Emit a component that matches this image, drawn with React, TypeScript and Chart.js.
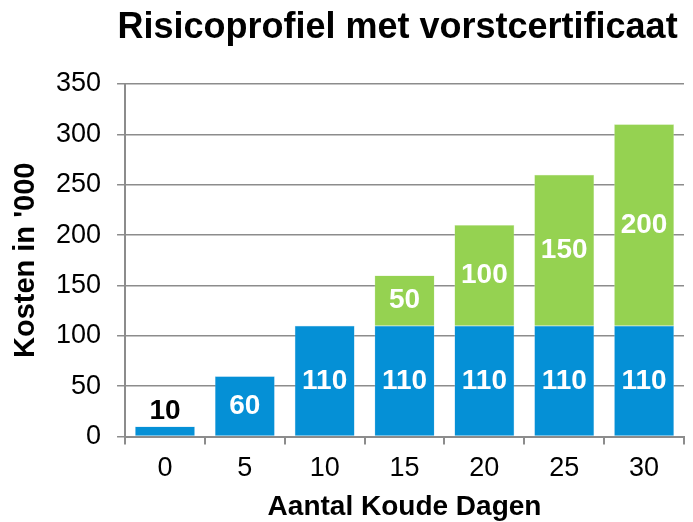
import React, { useEffect, useRef } from "react";
import { Chart, registerables } from "chart.js";

Chart.register(...registerables);

const categories = ["0", "5", "10", "15", "20", "25", "30"];
const baseCosts = [10, 60, 110, 110, 110, 110, 110];
const extraCosts = [0, 0, 0, 50, 100, 150, 200];
const baseLabels = ["10", "60", "110", "110", "110", "110", "110"];
const extraLabels = ["", "", "", "50", "100", "150", "200"];
const titleText = "Risicoprofiel met vorstcertificaat";

const FONT = "'Liberation Sans', Arial, Helvetica, sans-serif";

const labelPlugin = {
  id: "barLabels",
  afterDatasetsDraw(chart: any) {
    const ctx = chart.ctx;
    ctx.save();
    ctx.font = `bold 28px ${FONT}`;
    ctx.textAlign = "center";
    ctx.textBaseline = "middle";
    const lists = [baseLabels, extraLabels];
    chart.data.datasets.forEach((ds: any, di: number) => {
      const meta = chart.getDatasetMeta(di);
      meta.data.forEach((bar: any, i: number) => {
        const txt = lists[di][i];
        if (!txt) return;
        const h = Math.abs(bar.base - bar.y);
        if (h < 30) {
          ctx.fillStyle = "#000";
          ctx.fillText(txt, bar.x, bar.y - 15);
        } else {
          ctx.fillStyle = "#fff";
          ctx.fillText(txt, bar.x, (bar.y + bar.base) / 2);
        }
      });
    });
    // title
    ctx.fillStyle = "#000";
    ctx.font = `bold 36px ${FONT}`;
    const ca = chart.chartArea;
    ctx.fillText(titleText, (ca.left + ca.right) / 2 - 7, 28);
    ctx.restore();
  },
};

export default function App() {
  const ref = useRef<HTMLCanvasElement>(null);
  useEffect(() => {
    document.body.style.margin = "0";
    const chart = new Chart(ref.current!, {
      type: "bar",
      data: {
        labels: categories,
        datasets: [
          {
            label: "Basis",
            data: baseCosts,
            backgroundColor: "#0590d6",
            borderColor: "#9fd0ee",
            borderWidth: 0.5,
            barPercentage: 0.75,
            categoryPercentage: 1,
          },
          {
            label: "Extra",
            data: extraCosts,
            backgroundColor: "#95d251",
            borderColor: "#cdeab0",
            borderWidth: 0.5,
            barPercentage: 0.75,
            categoryPercentage: 1,
          },
        ],
      },
      options: {
        animation: false,
        responsive: false,
        layout: { padding: { left: 11, right: 9, top: 84, bottom: 1 } },
        plugins: {
          legend: { display: false },
          tooltip: { enabled: false },
          title: { display: false },
        },
        scales: {
          x: {
            stacked: true,
            grid: {
              offset: true,
              drawOnChartArea: false,
              drawTicks: true,
              tickLength: 8,
              color: "#8c8c8c",
              lineWidth: 2,
            },
            border: { color: "#8c8c8c", width: 2 },
            ticks: { color: "#000", font: { family: FONT, size: 27 }, padding: 8 },
            title: {
              display: true,
              text: "Aantal Koude Dagen",
              color: "#000",
              font: { family: FONT, size: 28, weight: "bold", lineHeight: 1 },
              padding: { top: 0, bottom: 0 },
            },
          },
          y: {
            stacked: true,
            min: 0,
            max: 350,
            ticks: { stepSize: 50, color: "#000", font: { family: FONT, size: 27 }, padding: 16 },
            grid: { color: "#8c8c8c", lineWidth: 1.5, tickLength: 8 },
            border: { color: "#8c8c8c", width: 2 },
            title: {
              display: true,
              text: "Kosten in '000",
              color: "#000",
              font: { family: FONT, size: 29, weight: "bold", lineHeight: 1 },
              padding: { top: 0, bottom: 0 },
            },
          },
        },
      },
      plugins: [labelPlugin],
    });
    return () => chart.destroy();
  }, []);
  return (
    <div style={{ width: 693, height: 522 }}>
      <canvas ref={ref} width={693} height={522} />
    </div>
  );
}
